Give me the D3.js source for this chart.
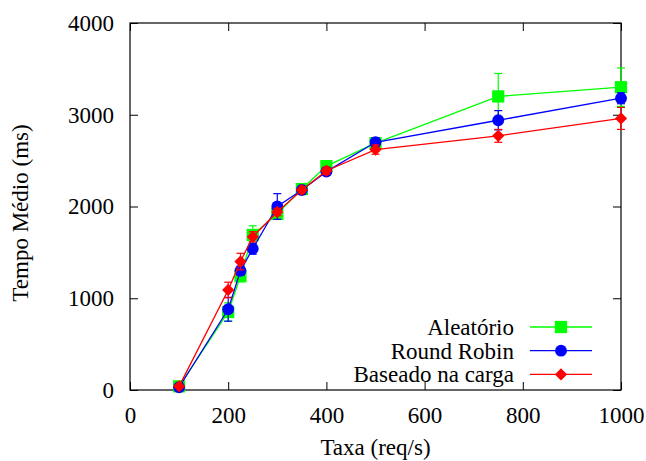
<!DOCTYPE html>
<html>
<head>
<meta charset="utf-8">
<script src="https://cdn.jsdelivr.net/npm/d3@7"></script>
</head>
<body style="margin:0">
<svg id="s" width="646" height="461"></svg>
<script>
// Data
const taxa = [100, 200, 225, 250, 300, 350, 400, 500, 750, 1000];

const aleatorio = [40, 850, 1240, 1690, 1920, 2190, 2440, 2690, 3200, 3300];
const aleatorioErr = [20, 100, 60, 100, 40, 30, 40, 40, 250, 210];

const roundRobin = [30, 880, 1300, 1540, 2000, 2180, 2380, 2700, 2940, 3180];
const roundRobinErr = [10, 130, 50, 60, 140, 30, 40, 50, 105, 60];

const carga = [40, 1090, 1400, 1670, 1940, 2180, 2390, 2620, 2770, 2960];
const cargaErr = [10, 85, 90, 55, 40, 30, 40, 50, 70, 120];

const xTicks = [0, 200, 400, 600, 800, 1000];
const yTicks = [0, 1000, 2000, 3000, 4000];

const seriesNames = ["Aleatório", "Round Robin", "Baseado na carga"];
const seriesColours = ["#00ff00", "#0000ff", "#ff0000"];
// gnuplot style: filled square, circle, and a square turned 45 degrees
const seriesShapes = [d3.symbolSquare, d3.symbolCircle, d3.symbolSquare];
const seriesSizes = [150, 110, 75];
const seriesRotate = [0, 0, 45];

const config = {
    containerWidth: 646,
    containerHeight: 461,
    margin: { top: 23, right: 25, bottom: 71, left: 130 },
    fontSize: "23px",
    fontFamily: '"Liberation Serif", monospace'
};
const width = config.containerWidth - config.margin.left - config.margin.right;
const height = config.containerHeight - config.margin.top - config.margin.bottom;

const svg = d3.select("#s");

const chartArea = svg.append("g")
    .attr("transform", `translate(${config.margin.left},${config.margin.top})`);

const x = d3.scaleLinear().domain([0, 1000]).range([0, width]);
const y = d3.scaleLinear().domain([0, 4000]).range([height, 0]);

// Inward ticks, mirrored on top and right like gnuplot
const tickLen = 8;
const ax = [
    { axis: d3.axisBottom(x).tickValues(xTicks).tickFormat(d3.format("d")).tickPadding(17), at: [0, height] },
    { axis: d3.axisTop(x).tickValues(xTicks).tickFormat(""), at: [0, 0] },
    { axis: d3.axisLeft(y).tickValues(yTicks).tickFormat(d3.format("d")).tickPadding(16), at: [0, 0] },
    { axis: d3.axisRight(y).tickValues(yTicks).tickFormat(""), at: [width, 0] }
];
ax.forEach(a => {
    chartArea.append("g")
        .attr("transform", `translate(${a.at[0]},${a.at[1]})`)
        .call(a.axis.tickSizeInner(-tickLen).tickSizeOuter(0));
});

chartArea.selectAll(".domain").remove();
chartArea.selectAll(".tick line").attr("stroke", "#000");
chartArea.selectAll("g").attr("font-family", null).attr("font-size", null);

// Frame
chartArea.append("rect")
    .attr("width", width)
    .attr("height", height)
    .attr("fill", "none")
    .attr("stroke", "#000")
    .attr("stroke-width", 1.2);

// Axis titles
svg.append("text")
    .attr("x", config.margin.left + width / 2)
    .attr("y", 455)
    .attr("text-anchor", "middle")
    .text("Taxa (req/s)");

svg.append("text")
    .attr("transform", "translate(28,213) rotate(-90)")
    .attr("text-anchor", "middle")
    .text("Tempo Médio (ms)");

// Series, drawn green first so red ends on top
const series = [
    { values: aleatorio, errs: aleatorioErr },
    { values: roundRobin, errs: roundRobinErr },
    { values: carga, errs: cargaErr }
];

const line = d3.line()
    .x(d => x(d.x))
    .y(d => y(d.y));

series.forEach((s, i) => {
    const points = taxa.map((t, j) => ({ x: t, y: s.values[j], err: s.errs[j] }));
    const colour = seriesColours[i];
    const g = chartArea.append("g").attr("class", "series");

    // error bars
    const bars = g.selectAll(".err")
        .data(points)
        .join("g")
        .attr("class", "err")
        .attr("stroke", colour)
        .attr("stroke-width", 1.2);
    bars.append("line")
        .attr("x1", d => x(d.x)).attr("x2", d => x(d.x))
        .attr("y1", d => y(d.y - d.err)).attr("y2", d => y(d.y + d.err));
    bars.append("line")
        .attr("x1", d => x(d.x) - 4).attr("x2", d => x(d.x) + 4)
        .attr("y1", d => y(d.y + d.err)).attr("y2", d => y(d.y + d.err));
    bars.append("line")
        .attr("x1", d => x(d.x) - 4).attr("x2", d => x(d.x) + 4)
        .attr("y1", d => y(d.y - d.err)).attr("y2", d => y(d.y - d.err));

    g.append("path")
        .datum(points)
        .attr("fill", "none")
        .attr("stroke", colour)
        .attr("stroke-width", 1.3)
        .attr("d", line);

    g.selectAll(".mark")
        .data(points)
        .join("path")
        .attr("class", "mark")
        .attr("transform", d => `translate(${x(d.x)},${y(d.y)}) rotate(${seriesRotate[i]})`)
        .attr("fill", colour)
        .attr("d", d3.symbol().type(seriesShapes[i]).size(seriesSizes[i]));
});

// Legend, bottom right inside the frame
const legend = svg.append("g").attr("class", "legend");
seriesNames.forEach((name, i) => {
    const rowY = 327 + i * 23.7;
    legend.append("text")
        .attr("x", 514)
        .attr("y", rowY + 8)
        .attr("text-anchor", "end")
        .text(name);
    legend.append("line")
        .attr("x1", 530).attr("x2", 592)
        .attr("y1", rowY).attr("y2", rowY)
        .attr("stroke", seriesColours[i])
        .attr("stroke-width", 1.3);
    legend.append("path")
        .attr("transform", `translate(561,${rowY}) rotate(${seriesRotate[i]})`)
        .attr("fill", seriesColours[i])
        .attr("d", d3.symbol().type(seriesShapes[i]).size(seriesSizes[i]));
});

// one font for every label
svg.selectAll("text")
    .style("font-family", config.fontFamily)
    .style("font-size", config.fontSize)
    .attr("fill", "#000");
</script>
</body>
</html>
